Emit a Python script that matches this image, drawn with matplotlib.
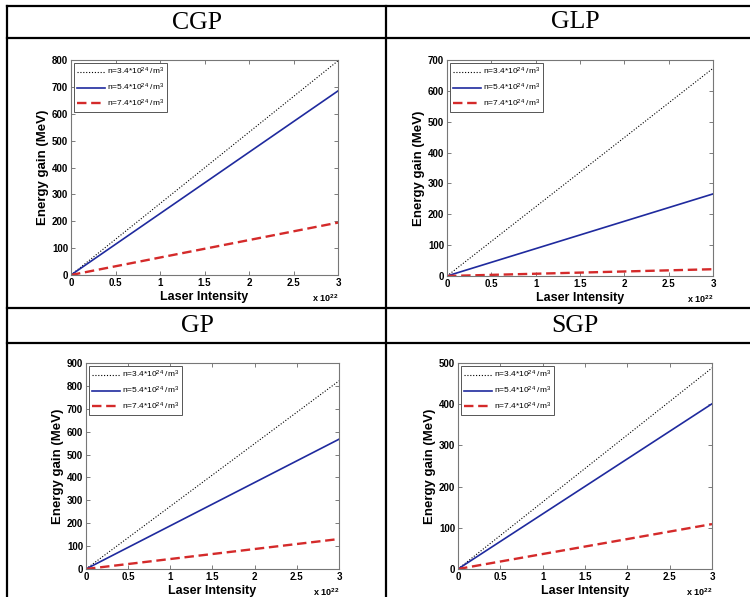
import matplotlib
matplotlib.use("Agg")
import matplotlib.pyplot as plt
from matplotlib.lines import Line2D

# data (intensity in units of 1e22)
panels = ["CGP", "GLP", "GP", "SGP"]
intensity = [0, 3]
x_ticks = [0, 0.5, 1, 1.5, 2, 2.5, 3]
x_tick_labels = ["0", "0.5", "1", "1.5", "2", "2.5", "3"]
y_max = [800, 700, 900, 500]
series_labels = [r"n=3.4*10$^{24}$ /m$^3$",
                 r"n=5.4*10$^{24}$ /m$^3$",
                 r"n=7.4*10$^{24}$ /m$^3$"]

# energy gain (MeV) for n=3.4, 5.4, 7.4 x10^24 /m^3
cgp_gain = [[0, 797], [0, 685], [0, 195]]
glp_gain = [[0, 673], [0, 266], [0, 22]]
gp_gain = [[0, 822], [0, 567], [0, 131]]
sgp_gain = [[0, 488], [0, 401], [0, 109]]
all_gains = [cgp_gain, glp_gain, gp_gain, sgp_gain]

plt.rcParams['mathtext.default'] = 'regular'

W, H = 750, 597
fig = plt.figure(figsize=(7.5, 5.97), dpi=100)
fig.patch.set_facecolor('white')

def fx(px):
    return px / W

def fy(py):
    return 1 - py / H

# table grid
lw_tab = 1.6
for y in [6, 38, 308, 343]:
    fig.add_artist(Line2D([fx(7), 1], [fy(y), fy(y)], color='black', lw=lw_tab))
for x in [7, 386]:
    fig.add_artist(Line2D([fx(x), fx(x)], [fy(6), 0], color='black', lw=lw_tab))

# header text
header_pos = [(197, 23), (575, 22), (197, 326), (575, 326)]
for name, (hx, hy) in zip(panels, header_pos):
    fig.text(fx(hx), fy(hy), name, ha='center', va='center',
             family='Liberation Serif', fontsize=18.5)

# axes boxes in pixels: left, top, right, bottom
boxes = [(71, 60, 338, 275), (447, 60, 713, 276),
         (86, 363, 339, 569), (458, 363, 712, 569)]

styles = [dict(color='black', ls=(0, (1, 1.6)), lw=0.8),
          dict(color='#1f2a9e', ls='-', lw=1.2),
          dict(color='#d42a2a', ls=(0, (4, 2)), lw=1.7)]

for gains, ymax, (l, t, r, b) in zip(all_gains, y_max, boxes):
    ax = fig.add_axes([fx(l), fy(b), (r - l) / W, (b - t) / H])
    for g, st, lab in zip(gains, styles, series_labels):
        ax.plot(intensity, g, label=lab, **st)
    ax.set_xlim(0, 3)
    ax.set_ylim(0, ymax)
    ax.set_xticks(x_ticks)
    ax.set_xticklabels(x_tick_labels)
    ax.set_yticks(range(0, ymax + 1, 100))
    ax.tick_params(direction='in', length=3, width=0.6, top=True, right=True,
                   labelsize=7, pad=2, color='#666666')
    for lbl in ax.get_xticklabels() + ax.get_yticklabels():
        lbl.set_fontweight('bold')
        lbl.set_family('Liberation Sans')
    for sp in ax.spines.values():
        sp.set_color('#777777')
        sp.set_linewidth(0.8)
    ax.set_xlabel('Laser Intensity', family='Liberation Sans', fontweight='bold',
                  fontsize=9, labelpad=2.5)
    ax.set_ylabel('Energy gain (MeV)', family='Liberation Sans',
                  fontweight='bold', fontsize=9.5, labelpad=2)
    h_px = b - t
    ax.text(1.0, -23 / h_px, r'x 10$^{22}$', transform=ax.transAxes, ha='right',
            va='center', family='Liberation Sans', fontweight='bold', fontsize=6.5)
    leg = ax.legend(loc='upper left', prop={'family': 'Liberation Sans', 'size': 6},
                    handlelength=3.4, handletextpad=0.2, borderpad=0.4,
                    labelspacing=0.55, fancybox=False, framealpha=1,
                    borderaxespad=0.3)
    leg.get_frame().set_edgecolor('#555555')
    leg.get_frame().set_linewidth(0.7)

fig.savefig('out.png', dpi=100, facecolor='white')
